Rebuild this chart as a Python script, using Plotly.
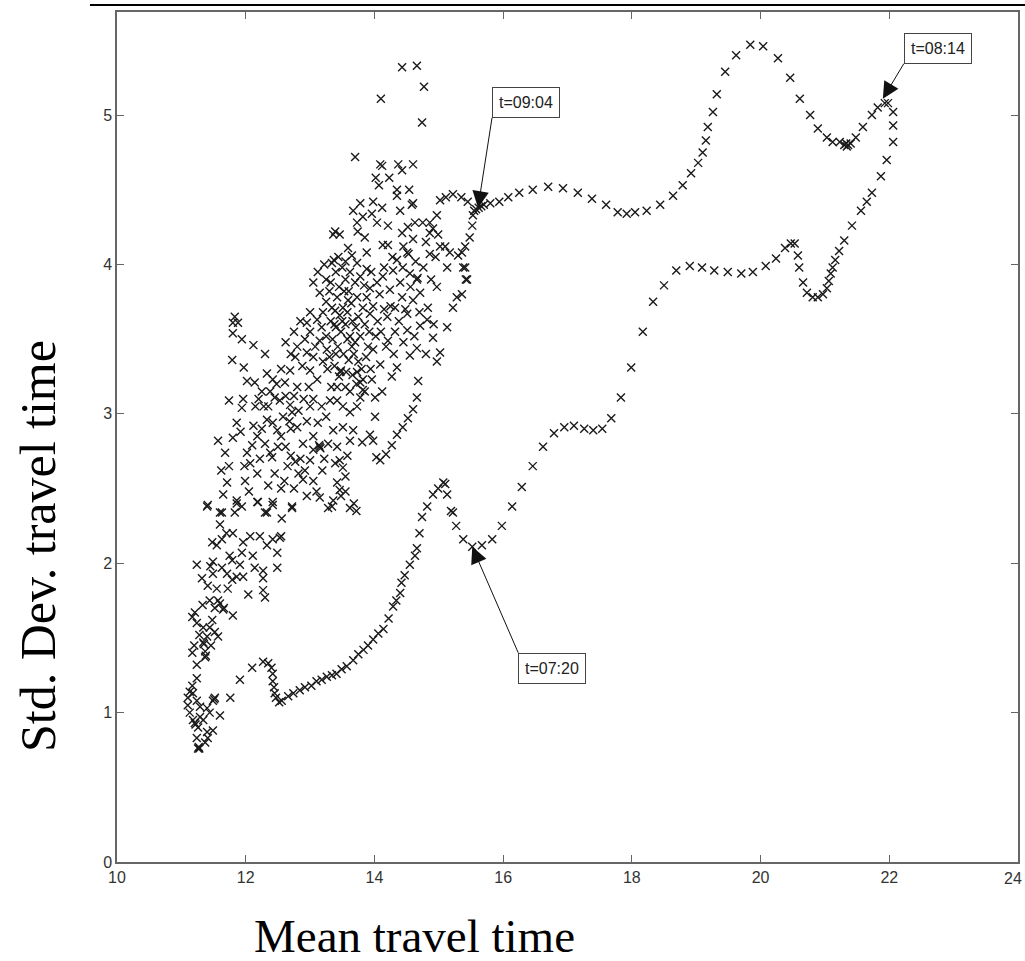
import plotly.graph_objects as go

# ---- data (mean travel time, std. dev. travel time) ----
morning = [(11.60, 0.98), (11.76, 1.10), (11.91, 1.22), (12.10, 1.30), (12.27, 1.34),
           (12.35, 1.33), (12.40, 1.30), (12.42, 1.26), (12.42, 1.21), (12.44, 1.17),
           (12.45, 1.13), (12.47, 1.10), (12.52, 1.07), (12.56, 1.08), (12.66, 1.11),
           (12.74, 1.13), (12.84, 1.15), (12.92, 1.17), (13.02, 1.18), (13.10, 1.21),
           (13.18, 1.22), (13.26, 1.24), (13.34, 1.25), (13.41, 1.26), (13.49, 1.29),
           (13.57, 1.31), (13.67, 1.35), (13.75, 1.39), (13.83, 1.42), (13.90, 1.45),
           (13.98, 1.49), (14.06, 1.53), (14.14, 1.56), (14.22, 1.63), (14.29, 1.71),
           (14.34, 1.75), (14.40, 1.80), (14.42, 1.87), (14.47, 1.92), (14.55, 1.99),
           (14.63, 2.05), (14.66, 2.10), (14.70, 2.20), (14.74, 2.31), (14.82, 2.38),
           (14.91, 2.46), (14.99, 2.50), (15.07, 2.54), (15.10, 2.53), (15.13, 2.46),
           (15.19, 2.35), (15.22, 2.34), (15.27, 2.25), (15.38, 2.16), (15.52, 2.11)]

rise = [(15.67, 2.12), (15.83, 2.16), (15.98, 2.25), (16.14, 2.38), (16.29, 2.51),
        (16.46, 2.65), (16.62, 2.78), (16.79, 2.87), (16.95, 2.91), (17.10, 2.92),
        (17.26, 2.90), (17.40, 2.89), (17.54, 2.90), (17.68, 2.97), (17.83, 3.11),
        (17.99, 3.31), (18.17, 3.55), (18.33, 3.75), (18.50, 3.86), (18.69, 3.96),
        (18.90, 3.99), (19.09, 3.98), (19.28, 3.96), (19.49, 3.95), (19.70, 3.94),
        (19.88, 3.95), (20.08, 3.99), (20.24, 4.04), (20.38, 4.11), (20.47, 4.14),
        (20.53, 4.14), (20.58, 4.06), (20.60, 3.98), (20.66, 3.88), (20.72, 3.81),
        (20.81, 3.78), (20.89, 3.78), (20.97, 3.80), (21.03, 3.84), (21.06, 3.89),
        (21.09, 3.94), (21.12, 3.98), (21.16, 4.03), (21.22, 4.09), (21.30, 4.16),
        (21.42, 4.26), (21.56, 4.36), (21.65, 4.42), (21.73, 4.48), (21.87, 4.59),
        (21.96, 4.70), (22.06, 4.82), (22.06, 4.93), (22.06, 5.02), (21.98, 5.08)]

decline = [(21.93, 5.08), (21.82, 5.05), (21.73, 5.00), (21.59, 4.92), (21.48, 4.85),
           (21.40, 4.81), (21.36, 4.80), (21.34, 4.79), (21.33, 4.81), (21.30, 4.80),
           (21.23, 4.82), (21.12, 4.82), (21.03, 4.85), (20.89, 4.91), (20.77, 5.00),
           (20.61, 5.11), (20.46, 5.25), (20.27, 5.38), (20.04, 5.46), (19.84, 5.47),
           (19.62, 5.40), (19.45, 5.29), (19.32, 5.14), (19.26, 5.02), (19.18, 4.92),
           (19.15, 4.83), (19.10, 4.75), (19.03, 4.68), (18.92, 4.61), (18.79, 4.53),
           (18.64, 4.46), (18.44, 4.40), (18.23, 4.36), (18.05, 4.35), (17.92, 4.34),
           (17.78, 4.35), (17.60, 4.40), (17.38, 4.44), (17.16, 4.48), (16.93, 4.51),
           (16.70, 4.52), (16.46, 4.50), (16.25, 4.48), (16.08, 4.45), (15.94, 4.42),
           (15.80, 4.41), (15.70, 4.40), (15.66, 4.39), (15.62, 4.38), (15.58, 4.37),
           (15.55, 4.36), (15.45, 4.42), (15.35, 4.45), (15.22, 4.47), (15.11, 4.45),
           (15.02, 4.43), (15.53, 4.33), (15.52, 4.26), (15.48, 4.18), (15.41, 4.12),
           (15.36, 4.08), (15.30, 4.06)]

cluster = [
    (14.43, 5.32), (14.66, 5.33), (14.77, 5.19), (14.74, 4.95), (14.10, 5.11), (13.70, 4.72),
    (14.09, 4.67), (14.12, 4.66), (14.37, 4.67), (14.60, 4.67), (14.43, 4.63), (14.02, 4.58),
    (14.23, 4.58), (14.07, 4.53), (14.35, 4.50), (14.54, 4.50), (14.35, 4.46), (14.58, 4.40),
    (14.60, 4.41), (14.40, 4.36), (14.12, 4.38), (13.98, 4.42), (13.78, 4.41), (13.67, 4.36),
    (13.96, 4.34), (13.82, 4.32), (13.73, 4.28), (14.04, 4.28), (14.21, 4.26), (13.74, 4.22),
    (13.85, 4.18), (13.46, 4.20), (13.36, 4.20), (13.39, 4.22), (14.13, 4.13), (14.21, 4.13),
    (13.88, 4.08), (13.59, 4.11), (14.52, 4.25), (14.43, 4.21), (14.63, 4.28), (14.75, 4.28),
    (14.86, 4.28), (14.97, 4.33), (14.91, 4.24), (14.99, 4.20), (14.86, 4.21), (14.60, 4.17),
    (14.51, 4.08), (14.53, 4.07), (14.86, 4.07), (15.10, 4.12), (15.17, 4.08), (15.02, 4.12),
    (15.13, 3.98), (13.65, 4.06), (13.34, 4.01), (13.37, 4.03), (13.50, 3.98), (13.73, 4.01),
    (14.35, 4.03), (14.44, 3.98), (14.29, 3.96), (14.13, 3.92), (14.04, 3.88), (13.93, 3.84),
    (13.73, 3.78), (13.59, 3.76), (13.51, 3.71), (13.39, 3.69), (13.82, 3.71), (14.24, 3.83),
    (14.55, 3.94), (14.66, 3.90), (14.67, 3.91), (14.71, 3.81), (14.60, 3.76), (14.43, 3.78),
    (14.32, 3.71), (14.97, 3.85), (14.83, 3.71), (14.51, 3.67), (13.93, 3.67), (14.20, 3.65),
    (14.82, 3.63), (15.22, 3.71), (15.36, 3.80), (15.44, 3.90), (15.38, 3.98), (15.42, 3.90),
    (15.28, 3.78), (15.41, 3.98), (13.12, 3.95), (13.05, 3.88), (13.15, 3.81), (13.00, 3.68),
    (13.20, 3.68), (13.34, 3.71), (11.83, 3.65), (11.88, 3.61), (11.80, 3.61), (11.80, 3.54),
    (11.94, 3.50), (11.79, 3.36), (11.97, 3.31), (12.02, 3.22), (12.14, 3.21), (12.33, 3.27),
    (12.42, 3.23), (12.61, 3.21), (12.77, 3.38), (11.74, 3.09), (11.96, 3.10), (11.94, 3.04),
    (11.86, 2.94), (11.80, 2.84), (11.68, 2.74), (11.74, 2.65), (12.02, 2.74), (12.07, 2.67),
    (12.18, 2.60), (11.99, 2.55), (11.71, 2.54), (11.65, 2.46), (11.86, 2.42), (11.94, 2.38),
    (11.41, 2.39), (11.60, 2.34), (11.83, 2.34), (12.19, 2.41), (12.42, 2.41), (12.33, 2.34),
    (12.72, 2.37), (12.25, 2.90), (12.33, 2.96), (12.42, 2.94), (12.49, 2.89), (12.38, 2.74),
    (12.41, 2.71), (12.18, 2.85), (12.10, 2.79), (12.53, 3.09), (12.45, 3.11), (12.69, 3.06),
    (12.72, 3.01), (12.58, 2.98), (12.80, 2.91), (12.89, 2.80), (12.77, 2.68), (12.89, 2.56),
    (13.15, 2.78), (13.14, 2.79), (13.16, 2.77), (13.19, 2.62), (13.15, 2.44), (13.28, 2.37),
    (13.00, 2.69), (13.05, 2.76), (12.80, 3.18), (12.69, 3.29), (13.00, 3.29), (12.95, 3.41),
    (13.15, 3.49), (13.26, 3.43), (13.11, 3.23), (13.31, 3.09), (13.42, 3.18), (13.00, 3.05),
    (13.12, 2.94), (13.36, 2.89), (12.95, 3.61), (13.11, 3.63), (13.98, 3.43), (14.21, 3.49),
    (14.51, 3.56), (14.71, 3.59), (15.13, 3.58), (14.91, 3.51), (15.02, 3.41), (14.97, 3.35),
    (14.66, 3.44), (14.55, 3.39), (14.35, 3.31), (14.27, 3.25), (14.09, 3.33), (13.82, 3.23),
    (13.96, 3.23), (13.82, 3.16), (13.78, 3.11), (14.12, 3.15), (14.01, 3.11), (13.73, 3.05),
    (13.62, 3.01), (13.51, 3.05), (13.42, 3.09), (13.62, 3.15), (13.78, 3.21), (13.85, 3.15),
    (13.51, 2.91), (13.67, 2.89), (13.81, 2.81), (13.93, 2.86), (13.98, 2.82), (13.62, 2.82),
    (13.42, 2.78), (13.46, 2.69), (13.39, 2.67), (13.51, 2.64), (13.42, 2.54), (13.46, 2.49),
    (13.36, 2.42), (13.34, 2.38), (14.01, 2.98), (14.68, 3.22), (14.66, 3.11), (14.60, 3.03),
    (14.52, 2.97), (14.44, 2.91), (14.35, 2.86), (14.27, 2.79), (14.18, 2.73), (14.09, 2.69),
    (14.03, 2.71), (13.62, 2.37), (13.68, 2.40), (13.72, 2.35), (11.40, 2.38), (11.63, 2.34),
    (11.86, 2.40), (12.18, 2.41), (12.30, 2.34), (12.42, 2.39), (12.56, 2.30), (12.72, 2.38),
    (11.60, 2.26), (11.48, 2.14), (11.63, 2.16), (11.80, 2.20), (11.96, 2.14), (12.07, 2.18),
    (12.22, 2.18), (12.33, 2.12), (12.42, 2.16), (12.53, 2.17), (12.55, 2.18), (12.49, 2.07),
    (12.11, 2.05), (11.94, 2.07), (11.24, 1.99), (11.49, 2.01), (11.63, 1.97), (11.79, 2.02),
    (11.91, 1.99), (12.14, 1.97), (12.27, 1.95), (12.49, 1.97), (11.32, 1.90), (11.49, 1.93),
    (11.71, 1.93), (11.79, 1.89), (11.86, 1.91), (11.96, 1.91), (11.41, 1.85), (11.72, 1.83),
    (11.55, 1.83), (12.27, 1.90), (12.27, 1.82), (12.30, 1.77), (12.04, 1.79), (11.44, 1.75),
    (11.60, 1.73), (11.65, 1.69), (11.66, 1.70), (11.57, 1.75), (11.80, 1.65), (11.21, 1.67),
    (11.17, 1.64), (11.24, 1.60), (11.34, 1.57), (11.44, 1.57), (11.52, 1.54), (11.40, 1.51),
    (11.57, 1.51), (11.34, 1.47), (11.35, 1.46), (11.37, 1.41), (11.37, 1.37), (11.38, 1.38),
    (11.17, 1.40), (11.24, 1.32), (11.24, 1.23), (11.17, 1.18), (11.13, 1.14), (11.10, 1.10),
    (11.10, 1.05), (11.13, 1.00), (11.18, 0.95), (11.21, 0.93), (11.22, 0.92), (11.26, 0.90),
    (11.24, 0.83), (11.26, 0.76), (11.28, 0.76), (11.27, 0.77), (11.37, 0.80), (11.41, 0.83),
    (11.40, 0.87), (11.49, 0.88), (11.34, 0.95), (11.44, 1.00), (11.40, 1.03), (11.49, 1.08),
    (11.52, 1.10), (11.51, 1.09), (11.29, 0.97), (11.24, 1.08), (11.18, 1.13), (11.29, 1.04),
    (11.57, 2.82), (11.62, 2.62), (13.32, 3.62), (13.40, 3.58), (13.48, 3.55), (13.55, 3.60),
    (13.62, 3.52), (13.70, 3.48), (13.35, 3.50), (13.43, 3.45), (13.52, 3.40), (13.60, 3.36),
    (13.68, 3.40), (13.75, 3.35), (13.30, 3.38), (13.38, 3.32), (13.47, 3.28), (13.48, 3.29),
    (13.56, 3.28), (13.66, 3.26), (13.73, 3.28), (13.80, 3.30), (13.45, 3.25), (13.45, 3.85),
    (13.55, 3.90), (13.62, 3.95), (13.70, 3.88), (13.78, 3.92), (13.88, 3.97), (13.40, 3.95),
    (13.50, 3.62), (13.58, 3.68), (13.66, 3.62), (13.75, 3.65), (13.85, 3.60), (13.92, 3.55),
    (13.42, 3.78), (13.60, 3.82), (13.88, 3.78), (13.98, 3.72), (14.05, 3.62), (14.10, 3.55),
    (13.30, 3.82), (13.25, 3.90), (13.22, 4.00), (13.55, 4.02), (13.44, 4.05), (12.75, 3.55),
    (12.85, 3.62), (12.92, 3.50), (13.00, 3.55), (13.08, 3.45), (13.18, 3.58), (13.25, 3.52),
    (12.80, 3.45), (12.88, 3.32), (13.05, 3.38), (13.20, 3.35), (12.70, 3.40), (12.62, 3.48),
    (12.55, 2.85), (12.62, 2.78), (12.70, 2.90), (12.65, 2.65), (12.85, 2.70), (12.95, 2.95),
    (13.05, 2.85), (12.50, 2.78), (12.60, 2.55), (12.75, 2.50), (12.95, 2.45), (13.05, 2.55),
    (13.10, 2.48), (12.30, 2.80), (12.22, 2.70), (12.28, 3.05), (12.38, 3.15), (12.20, 3.10),
    (12.12, 3.46), (12.30, 3.40), (14.15, 3.70), (14.38, 3.62), (14.45, 3.48), (14.30, 3.40),
    (14.62, 3.52), (14.80, 3.40),
    (13.25, 3.75), (13.32, 3.88), (13.38, 3.60), (13.46, 3.66), (13.53, 3.82), (13.58, 3.50),
    (13.64, 3.74), (13.71, 3.58), (13.78, 3.52), (13.84, 3.86), (13.90, 3.45), (13.95, 3.95),
    (13.27, 3.30), (13.33, 3.18), (13.40, 3.40), (13.55, 3.18), (13.65, 3.45), (13.72, 3.20),
    (13.87, 3.38), (13.94, 3.30), (14.02, 3.52), (14.08, 3.80), (14.15, 3.98), (14.18, 3.45),
    (14.25, 3.72), (14.28, 4.05), (14.32, 3.55), (14.40, 3.88), (14.45, 4.12), (14.48, 3.70),
    (14.56, 3.85), (14.64, 4.02), (14.70, 3.68), (14.76, 3.98), (14.80, 4.15), (14.88, 3.90),
    (14.92, 3.60), (14.95, 4.05),
    (12.15, 3.05), (12.25, 3.15), (12.35, 3.05), (12.48, 3.20), (12.55, 3.30), (12.62, 3.12),
    (12.68, 2.95), (12.75, 3.12), (12.82, 3.02), (12.90, 3.10), (12.98, 3.18), (13.05, 3.10),
    (13.18, 3.05), (13.25, 2.98), (13.28, 2.80), (13.22, 2.70), (12.92, 2.62), (12.82, 2.60),
    (12.70, 2.72), (12.45, 2.60), (12.35, 2.52), (12.05, 2.48), (12.12, 2.92), (11.92, 2.88),
    (11.98, 2.65), (12.55, 2.50), (13.55, 2.58), (13.58, 2.72), (13.55, 2.48), (13.48, 2.45),
    (11.70, 2.20), (11.75, 2.05), (11.55, 2.12), (11.45, 1.98), (11.52, 1.70), (11.33, 1.72),
    (11.48, 1.62), (11.28, 1.52), (11.20, 1.45), (11.46, 1.45)]

annotations_data = [("t=09:04", 15.61, 4.38), ("t=08:14", 21.90, 5.11), ("t=07:20", 15.52, 2.11)]

x_ticks = [10, 12, 14, 16, 18, 20, 22, 24]
y_ticks = [0, 1, 2, 3, 4, 5]

# ---- figure ----
xs, ys = [], []
for seg in (cluster, morning, rise, decline):
    xs += [p[0] for p in seg]
    ys += [p[1] for p in seg]

fig = go.Figure()
fig.add_trace(go.Scatter(
    x=xs, y=ys, mode="markers",
    marker=dict(symbol="x-thin", size=8, color="#1a1a1a",
                line=dict(color="#1a1a1a", width=1.4)),
    showlegend=False, hoverinfo="skip"))

tick_font = dict(family="Liberation Sans, Arial, sans-serif", size=16, color="#333")

ann = []
tail = {"t=09:04": (14, -90, "left", "bottom"),
        "t=08:14": (21, -35, "left", "bottom"),
        "t=07:20": (46, 106, "left", "top")}
for text, ax_x, ax_y in annotations_data:
    dx, dy, xa, ya = tail[text]
    ann.append(dict(x=ax_x, y=ax_y, xref="x", yref="y", text=text,
                    showarrow=True, ax=dx, ay=dy, xanchor=xa, yanchor=ya,
                    arrowhead=2, arrowsize=3.3, arrowwidth=1, arrowcolor="#111",
                    font=dict(family="Liberation Sans, Arial, sans-serif", size=16, color="#222"),
                    bgcolor="white", bordercolor="#444", borderwidth=1, borderpad=6))

# last x tick label sits flush with the right edge (as in the reference)
last_tick = x_ticks[-1]
ann.append(dict(text=str(last_tick), x=last_tick, xref="x", y=0, yref="paper",
                xanchor="right", yanchor="top", xshift=6, yshift=-6,
                showarrow=False, font=tick_font))

ann.append(dict(text="Mean travel time", xref="paper", yref="paper",
                x=(414 - 117) / 901, y=(862 - 936) / 850, xanchor="center", yanchor="middle",
                showarrow=False,
                font=dict(family="Liberation Serif, Times New Roman, serif", size=47, color="black")))
ann.append(dict(text="Std. Dev. travel time", xref="paper", yref="paper",
                x=(38 - 117) / 901, y=(862 - 546) / 850, xanchor="center", yanchor="middle",
                textangle=-90, showarrow=False,
                font=dict(family="Liberation Serif, Times New Roman, serif", size=50, color="black")))

axis_common = dict(showgrid=False, zeroline=False, showline=True, linecolor="#666", linewidth=1.5,
                   mirror="ticks", ticks="inside", ticklen=7, tickwidth=1, tickcolor="#666",
                   automargin=False, tickfont=tick_font)

fig.update_layout(
    width=1025, height=961,
    margin=dict(l=117, r=7, t=12, b=99),
    paper_bgcolor="white", plot_bgcolor="white",
    xaxis=dict(range=[10, 24], tickvals=x_ticks,
               ticktext=[str(v) if v != last_tick else "" for v in x_ticks], **axis_common),
    yaxis=dict(range=[0, 5.69], tickvals=y_ticks, ticktext=[str(v) for v in y_ticks], **axis_common),
    annotations=ann,
    shapes=[dict(type="line", xref="paper", yref="paper", x0=-0.03, x1=1.02,
                 y0=(862 - 5) / 850, y1=(862 - 5) / 850, line=dict(color="black", width=2))],
)

fig.write_html("out.html", config={"displayModeBar": False},
               post_script="document.body.style.margin='0';document.body.style.padding='0';"
                           "document.documentElement.style.overflow='hidden';")
